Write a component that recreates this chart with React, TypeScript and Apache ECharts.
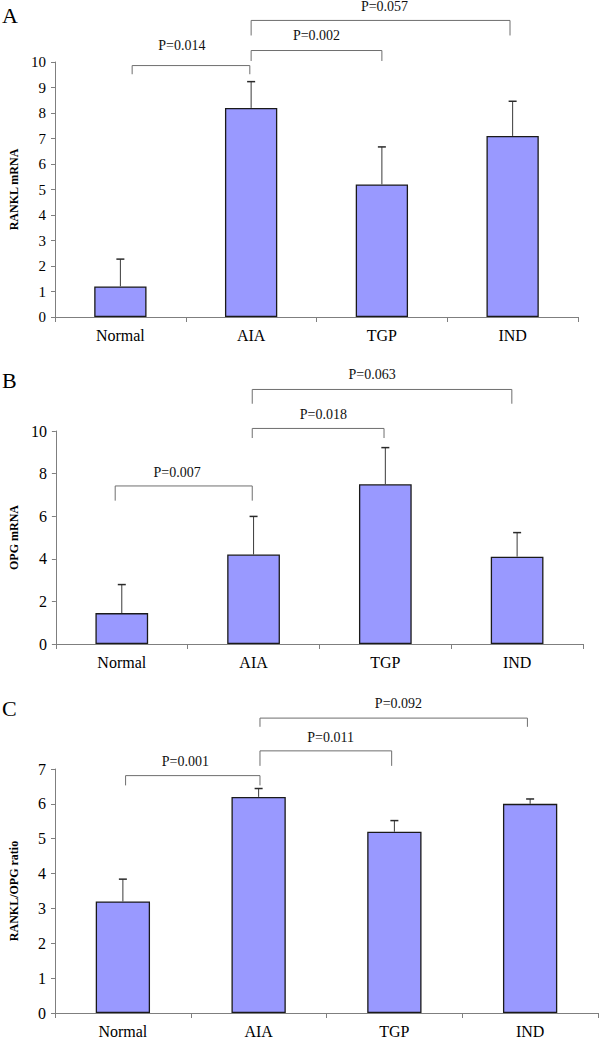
import React, { useEffect, useRef } from "react";
import * as echarts from "echarts";

const categories = ["Normal", "AIA", "TGP", "IND"];

const ranklMean = [1.2, 8.2, 5.2, 7.1];
const ranklSd = [1.07, 1.03, 1.47, 1.36];
const opgMean = [1.45, 4.2, 7.5, 4.1];
const opgSd = [1.34, 1.79, 1.72, 1.13];
const ratioMean = [3.2, 6.2, 5.2, 6.0];
const ratioSd = [0.64, 0.24, 0.32, 0.14];

// significance brackets (category index positions and values in data units)
const pLabelsA = ["P=0.014", "P=0.002", "P=0.057"];
const bFromA = [0.09, 1, 1];
const bToA = [0.99, 2, 2.98];
const bTopA = [9.86, 10.45, 11.63];
const bEndA = [9.52, 10.04, 11.04];
const pYA = [10.63, 11.02, 12.19];
const pXA = [0.47, 1.5, 2.02];

const pLabelsB = ["P=0.007", "P=0.018", "P=0.063"];
const bFromB = [-0.05, 0.99, 0.99];
const bToB = [0.99, 1.99, 2.96];
const bTopB = [7.42, 10.12, 11.95];
const bEndB = [6.73, 9.67, 11.28];
const pYB = [8.06, 10.78, 12.63];
const pXB = [0.42, 1.53, 1.9];

const pLabelsC = ["P=0.001", "P=0.011", "P=0.092"];
const bFromC = [0.02, 1.01, 1.01];
const bToC = [1.01, 1.98, 2.98];
const bTopC = [6.81, 7.52, 8.46];
const bEndC = [6.53, 7.09, 8.21];
const pYC = [7.22, 7.89, 8.87];
const pXC = [0.46, 1.53, 2.03];

const FONT = "Liberation Serif";
const AXIS_GRAY = "#7f7f7f";

function panelSeries(
  gi: number,
  means: number[],
  sds: number[],
  labels: string[],
  from: number[],
  to: number[],
  top: number[],
  end: number[],
  py: number[],
  px: number[]
) {
  return [
    {
      type: "bar",
      xAxisIndex: gi,
      yAxisIndex: gi,
      data: means,
      barWidth: "40%",
      itemStyle: { color: "#9999ff", borderColor: "#1a1a1a", borderWidth: 1.3 },
      silent: true,
    },
    {
      type: "custom",
      xAxisIndex: gi,
      yAxisIndex: gi,
      z: 5,
      clip: false,
      data: means.map((m, i) => [i, m, sds[i]]),
      encode: { x: 0, y: 1 },
      renderItem: (params: any, api: any) => {
        const i = api.value(0);
        const v = api.value(1);
        const sd = api.value(2);
        const b = api.coord([i, v]);
        const t = api.coord([i, v + sd]);
        return {
          type: "group",
          children: [
            {
              type: "line",
              shape: { x1: b[0], y1: b[1], x2: t[0], y2: t[1] },
              style: { stroke: "#3a3a3a", lineWidth: 1 },
            },
            {
              type: "line",
              shape: { x1: t[0] - 4, y1: t[1], x2: t[0] + 4, y2: t[1] },
              style: { stroke: "#2a2a2a", lineWidth: 1.5 },
            },
          ],
        };
      },
    },
    {
      type: "custom",
      xAxisIndex: gi,
      yAxisIndex: gi,
      z: 6,
      clip: false,
      data: labels.map((_, i) => [0, end[i]]),
      encode: { x: 0, y: 1 },
      renderItem: (params: any, api: any) => {
        const k = params.dataIndex;
        const c0 = api.coord([0, 0])[0];
        const bw = api.coord([1, 0])[0] - c0;
        const xOf = (idx: number) => c0 + idx * bw;
        const yOf = (val: number) => api.coord([0, val])[1];
        const x1 = xOf(from[k]);
        const x2 = xOf(to[k]);
        const yt = yOf(top[k]);
        const ye = yOf(end[k]);
        return {
          type: "group",
          children: [
            {
              type: "polyline",
              shape: { points: [[x1, ye], [x1, yt], [x2, yt], [x2, ye]] },
              style: { stroke: "#6e6e6e", lineWidth: 1, fill: null },
            },
            {
              type: "text",
              x: xOf(px[k]),
              y: yOf(py[k]),
              style: {
                text: labels[k],
                align: "center",
                verticalAlign: "middle",
                fontFamily: FONT,
                fontSize: 14,
                fill: "#111",
              },
            },
          ],
        };
      },
    },
  ];
}

function xAxisCfg(gi: number) {
  return {
    type: "category",
    gridIndex: gi,
    data: categories,
    axisLine: { lineStyle: { color: AXIS_GRAY, width: 1 } },
    axisTick: { show: true, length: 5, lineStyle: { color: AXIS_GRAY } },
    axisLabel: { color: "#000", fontFamily: FONT, fontSize: 16, margin: 10 },
  };
}

function yAxisCfg(gi: number, max: number, interval: number, name: string, fs: number) {
  return {
    type: "value",
    gridIndex: gi,
    min: 0,
    max,
    interval,
    name,
    nameLocation: "middle",
    nameRotate: 90,
    nameGap: 35,
    nameTextStyle: { color: "#000", fontFamily: FONT, fontSize: 12, fontWeight: "bold" },
    splitLine: { show: false },
    axisLine: { show: true, lineStyle: { color: AXIS_GRAY, width: 1 } },
    axisTick: { show: true, length: 4, lineStyle: { color: AXIS_GRAY } },
    axisLabel: { color: "#000", fontFamily: FONT, fontSize: fs, margin: 9 },
  };
}

export default function App() {
  const ref = useRef<HTMLDivElement>(null);
  useEffect(() => {
    if (!ref.current) return;
    const chart = echarts.init(ref.current, undefined, { renderer: "svg" });
    const option: any = {
      animation: false,
      backgroundColor: "#ffffff",
      grid: [
        { left: 44, right: 22, top: 62, height: 255, containLabel: false },
        { left: 43, right: 17, top: 431, height: 213, containLabel: false },
        { left: 44, right: 2, top: 769, height: 244, containLabel: false },
      ],
      xAxis: [xAxisCfg(0), xAxisCfg(1), xAxisCfg(2)],
      yAxis: [
        yAxisCfg(0, 10, 1, "RANKL mRNA", 15),
        yAxisCfg(1, 10, 2, "OPG mRNA", 16),
        yAxisCfg(2, 7, 1, "RANKL/OPG ratio", 16),
      ],
      graphic: [
        { type: "text", left: 2, top: 4, style: { text: "A", fontFamily: FONT, fontSize: 22, fill: "#000" } },
        { type: "text", left: 2, top: 369, style: { text: "B", fontFamily: FONT, fontSize: 22, fill: "#000" } },
        { type: "text", left: 2, top: 697, style: { text: "C", fontFamily: FONT, fontSize: 22, fill: "#000" } },
      ],
      series: [
        ...panelSeries(0, ranklMean, ranklSd, pLabelsA, bFromA, bToA, bTopA, bEndA, pYA, pXA),
        ...panelSeries(1, opgMean, opgSd, pLabelsB, bFromB, bToB, bTopB, bEndB, pYB, pXB),
        ...panelSeries(2, ratioMean, ratioSd, pLabelsC, bFromC, bToC, bTopC, bEndC, pYC, pXC),
      ],
    };
    chart.setOption(option);
    return () => chart.dispose();
  }, []);
  return (
    <div
      ref={ref}
      style={{ position: "absolute", left: 0, top: 0, width: 600, height: 1039, background: "#fff" }}
    />
  );
}
